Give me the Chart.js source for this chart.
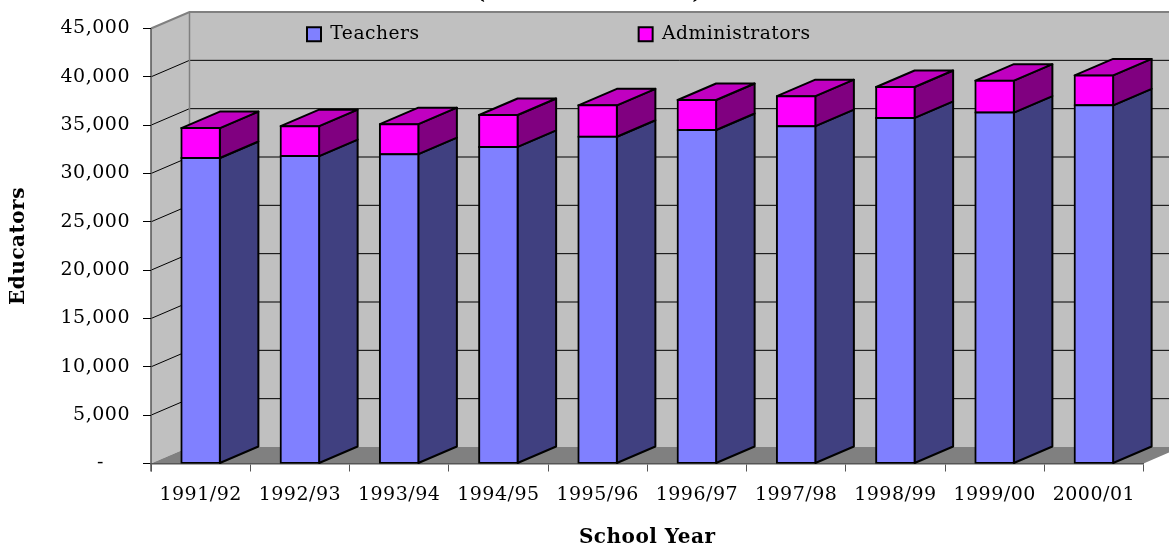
<!DOCTYPE html>
<html>
<head>
<meta charset="utf-8">
<style>html,body{margin:0;padding:0;background:#fff;overflow:hidden}canvas{display:block}</style>
<script src="https://cdn.jsdelivr.net/npm/chart.js@4"></script>
</head>
<body>
<canvas id="c" width="1169" height="547"></canvas>
<script>
const categories = ['1991/92','1992/93','1993/94','1994/95','1995/96','1996/97','1997/98','1998/99','1999/00','2000/01'];
const teachers = [31600,31800,32000,32750,33800,34500,34900,35750,36300,37050];
const administrators = [3100,3100,3100,3300,3250,3100,3100,3200,3300,3100];
const tickMax = 45000, tickStep = 5000;

const FONT = '"DejaVu Serif", serif';
const SPACING = '0.5px';
const DX = 38.5, DY = 16.5;
const WALL = '#c0c0c0', FLOOR = '#808080', EDGE = '#808080';
const sideColors = ['#404080', '#800080'];
const topColor = '#c000c0';

function poly(ctx, pts, fill, stroke, lw) {
  ctx.beginPath();
  pts.forEach((p, i) => i ? ctx.lineTo(p[0], p[1]) : ctx.moveTo(p[0], p[1]));
  ctx.closePath();
  if (fill) { ctx.fillStyle = fill; ctx.fill(); }
  if (stroke) { ctx.strokeStyle = stroke; ctx.lineWidth = lw; ctx.lineJoin = 'round'; ctx.stroke(); }
}

const scene3d = {
  id: 'scene3d',
  beforeUpdate(chart) { chart.ctx.letterSpacing = SPACING; },
  beforeLayout(chart) {
    chart.ctx.letterSpacing = SPACING;
    const lg = chart.legend;
    if (lg && !lg._patched) {
      const f = lg.fit.bind(lg);
      lg.fit = function () { f(); this.height = 0; };
      lg._patched = true;
    }
  },
  afterLayout(chart) {
    const lg = chart.legend, pad = lg.options.labels.padding;
    lg.left = 307 - pad; lg.right = 1169; lg.top = 25 - pad; lg.bottom = 60;
  },
  beforeDraw(chart) {
    const ctx = chart.ctx, a = chart.chartArea, y = chart.scales.y;
    ctx.letterSpacing = SPACING;
    ctx.save();
    const L = a.left, R = a.right, T = a.top, B = a.bottom;
    // walls and floor
    poly(ctx, [[L+DX,T-DY],[1169,T-DY],[1169,B-DY],[L+DX,B-DY]], WALL);
    poly(ctx, [[L,T],[L+DX,T-DY],[L+DX,B-DY],[L,B]], WALL);
    poly(ctx, [[L,B],[R,B],[R+DX,B-DY],[L+DX,B-DY]], FLOOR);
    // gridlines on the walls
    ctx.lineWidth = 1; ctx.strokeStyle = '#000';
    y.ticks.forEach(t => {
      if (t.value === 0 || t.value === tickMax) return;
      const py = y.getPixelForValue(t.value);
      ctx.beginPath();
      ctx.moveTo(L, py); ctx.lineTo(L+DX, py-DY); ctx.lineTo(1169, py-DY);
      ctx.stroke();
    });
    // wall edges
    ctx.strokeStyle = EDGE; ctx.lineWidth = 2;
    ctx.beginPath(); ctx.moveTo(L, T); ctx.lineTo(L+DX, T-DY); ctx.lineTo(1169, T-DY); ctx.stroke();
    ctx.lineWidth = 1.5;
    ctx.beginPath(); ctx.moveTo(L+DX, T-DY); ctx.lineTo(L+DX, B-DY); ctx.stroke();
    ctx.strokeStyle = '#555';
    ctx.beginPath(); ctx.moveTo(L, T); ctx.lineTo(L, B+8); ctx.stroke();
    // clipped title fragments at the top edge
    ctx.fillStyle = '#000';
    ctx.font = 'bold 18px ' + FONT;
    ctx.textBaseline = 'alphabetic'; ctx.textAlign = 'center';
    ctx.fillText('(', 481, -1);
    ctx.fillText(')', 697, -1);
    ctx.restore();
  },
  beforeDatasetsDraw(chart) {
    const ctx = chart.ctx;
    ctx.save();
    chart.data.datasets.forEach((ds, d) => {
      const meta = chart.getDatasetMeta(d);
      meta.data.forEach(el => {
        const p = el.getProps(['x','y','base','width'], true);
        const r = p.x + p.width / 2, l = p.x - p.width / 2;
        poly(ctx, [[r,p.base],[r+DX,p.base-DY],[r+DX,p.y-DY],[r,p.y]], sideColors[d], '#000', 2);
        if (d === chart.data.datasets.length - 1) {
          poly(ctx, [[l,p.y],[r,p.y],[r+DX,p.y-DY],[l+DX,p.y-DY]], topColor, '#000', 2);
        }
      });
    });
    ctx.restore();
  }
};

new Chart(document.getElementById('c'), {
  type: 'bar',
  data: {
    labels: categories,
    datasets: [
      { label: 'Teachers', data: teachers, backgroundColor: '#8080ff', borderColor: '#000', borderWidth: 2, borderSkipped: false, inflateAmount: 1, barThickness: 38.5 },
      { label: 'Administrators', data: administrators, backgroundColor: '#ff00ff', borderColor: '#000', borderWidth: 2, borderSkipped: false, inflateAmount: 1, barThickness: 38.5 }
    ]
  },
  options: {
    responsive: false,
    animation: false,
    devicePixelRatio: 1,
    layout: { padding: { top: 28.5, right: 25.5, left: 0, bottom: 0 } },
    plugins: {
      tooltip: { enabled: false },
      legend: {
        display: true,
        position: 'top',
        align: 'start',
        fullSize: false,
        onClick: null,
        labels: {
          boxWidth: 14, boxHeight: 14, padding: 219,
          color: '#000',
          font: { family: FONT, size: 18.7 }
        }
      }
    },
    scales: {
      x: {
        stacked: true,
        afterFit(s) { s.height = 83.5; },
        grid: { drawOnChartArea: false, drawTicks: true, tickLength: 8, tickColor: '#555', tickWidth: 1 },
        border: { color: '#555', width: 1.5 },
        ticks: { color: '#000', maxRotation: 0, autoSkip: false, padding: 12, font: { family: FONT, size: 19 } },
        title: { display: true, text: 'School Year', color: '#000', font: { family: FONT, size: 20, weight: 'bold', lineHeight: 0.9 }, padding: { top: 0, bottom: 0 } }
      },
      y: {
        stacked: true,
        min: 0, max: tickMax,
        afterFit(s) { s.width = 151; },
        grid: { drawOnChartArea: false, drawTicks: true, tickLength: 8, tickColor: '#000', tickWidth: 1 },
        border: { display: false },
        ticks: {
          stepSize: tickStep, color: '#000', padding: 13,
          font: { family: FONT, size: 19 },
          callback: v => v === 0 ? '-\u00a0\u00a0\u00a0\u00a0' : v.toLocaleString('en-US')
        },
        title: { display: true, text: 'Educators', color: '#000', font: { family: FONT, size: 20, weight: 'bold', lineHeight: 1.2 }, padding: { top: 7, bottom: 0 } }
      }
    }
  },
  plugins: [scene3d]
});
</script>
</body>
</html>
